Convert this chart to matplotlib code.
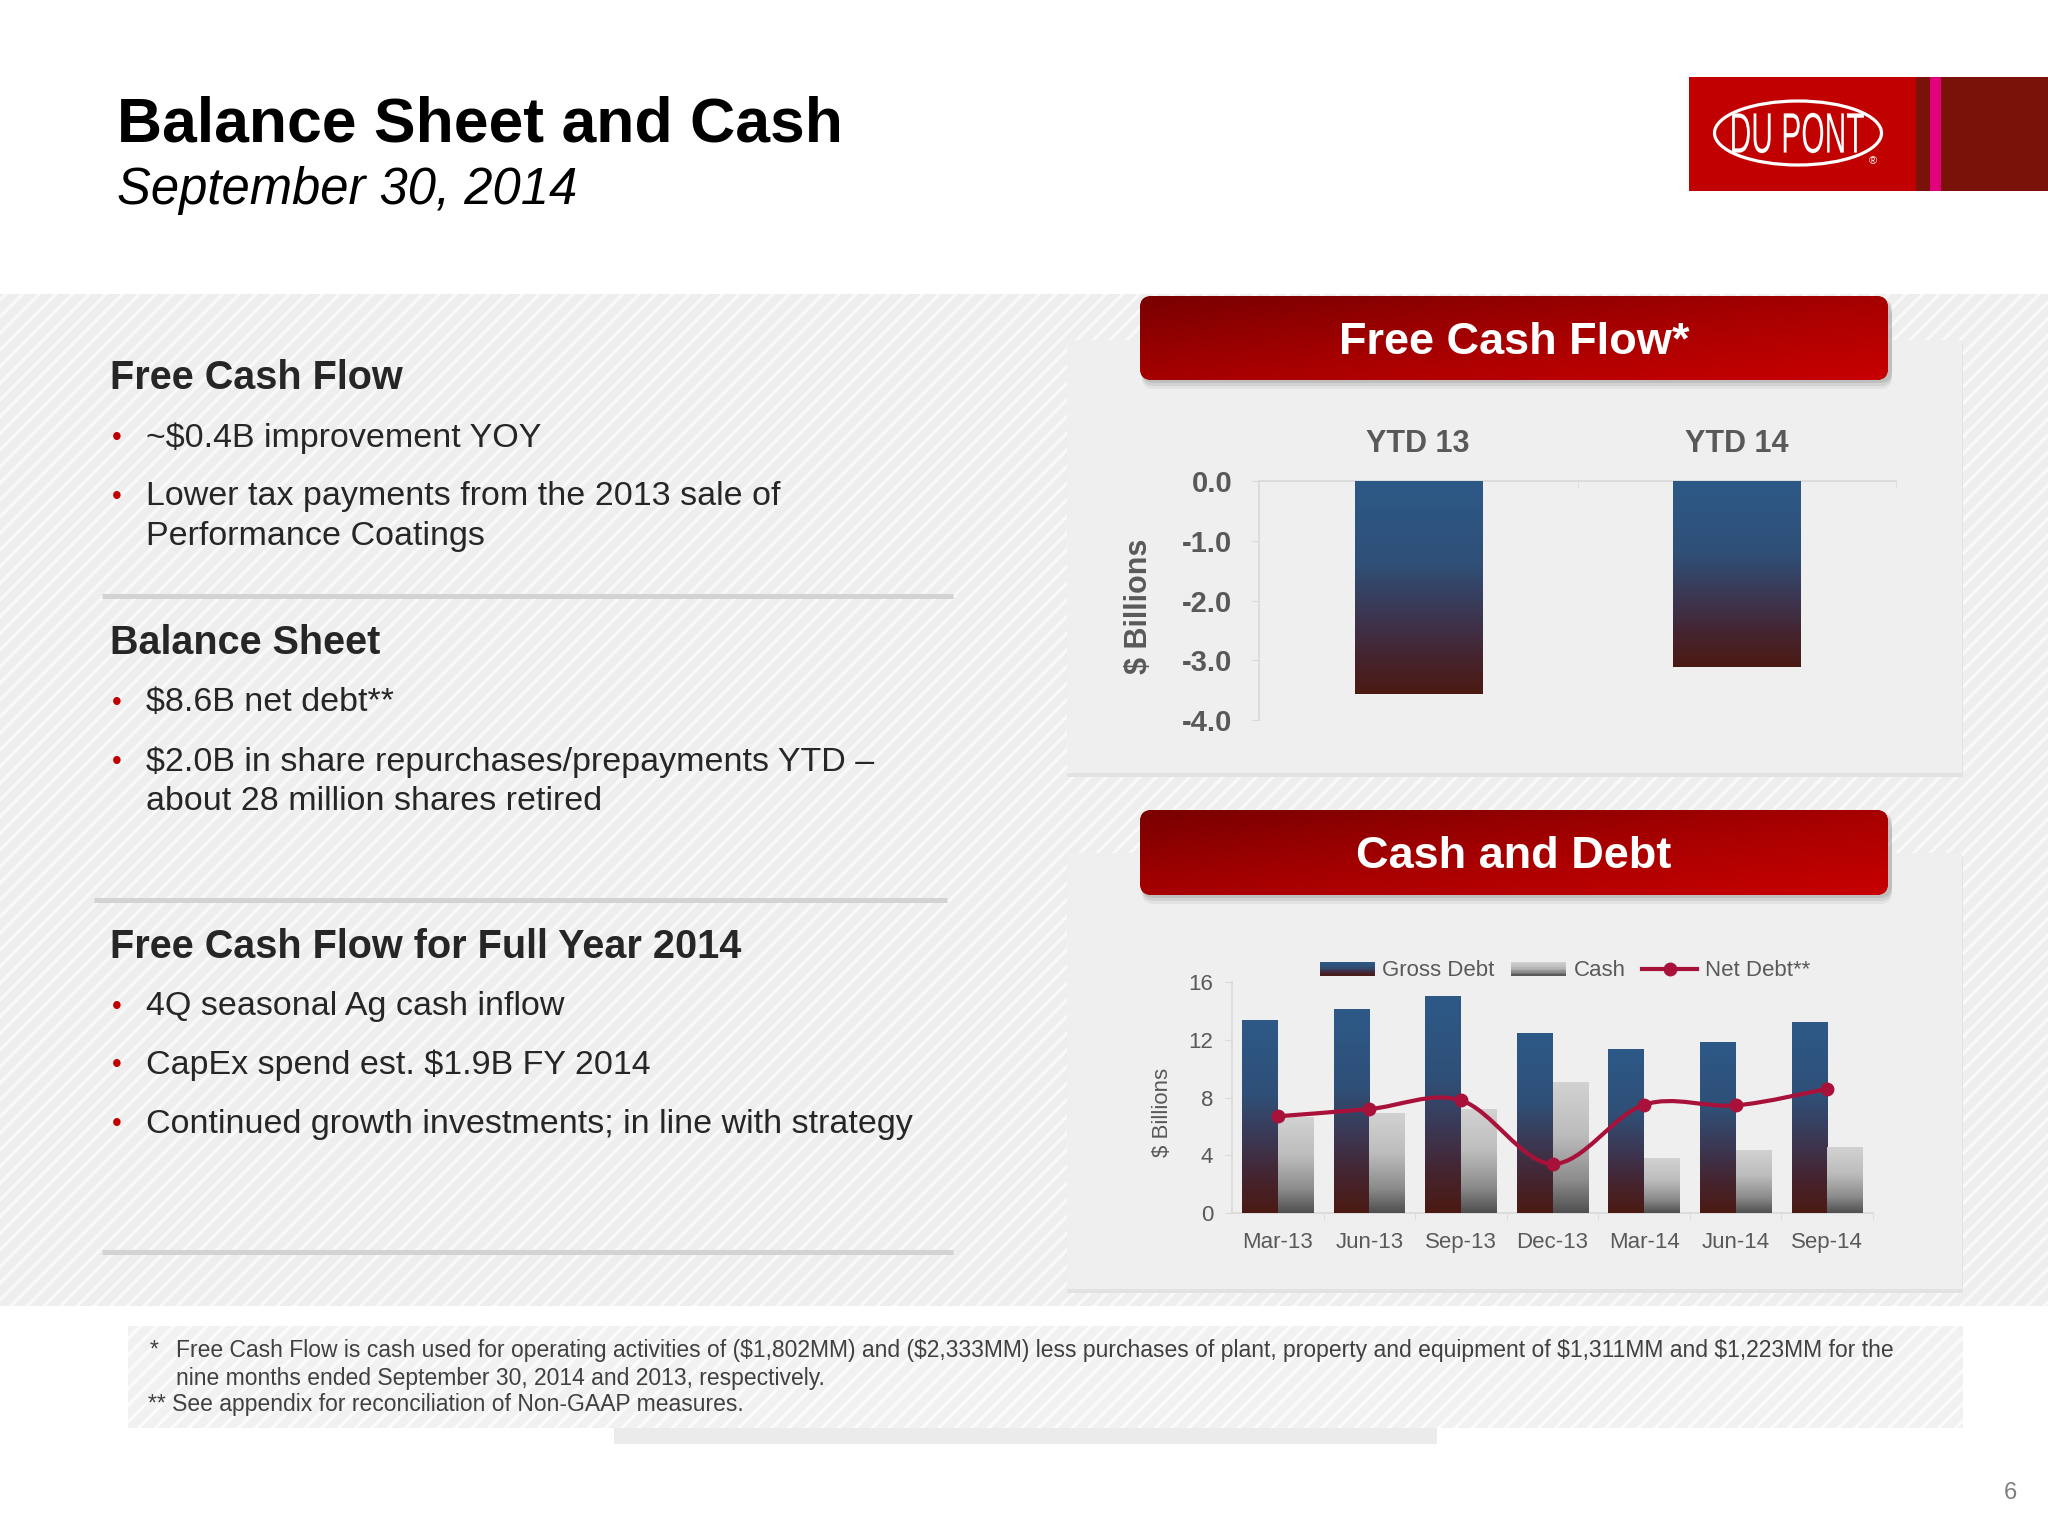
import numpy as np
import matplotlib
matplotlib.use("Agg")
import matplotlib.pyplot as plt
from matplotlib.patches import Rectangle, FancyBboxPatch, Ellipse, PathPatch
from matplotlib.path import Path
from matplotlib.textpath import TextPath
from matplotlib.font_manager import FontProperties
from matplotlib.transforms import Affine2D
from matplotlib.colors import LinearSegmentedColormap
from matplotlib.legend_handler import HandlerBase
from matplotlib.lines import Line2D

plt.rcParams["font.family"] = ["Liberation Sans", "DejaVu Sans"]
plt.rcParams["hatch.linewidth"] = 2.4
plt.rcParams["text.parse_math"] = False

# ---- data ----
fcf_labels = ["YTD 13", "YTD 14"]
fcf_values = [-3.56, -3.11]
fcf_ticks = [0.0, -1.0, -2.0, -3.0, -4.0]

periods = ["Mar-13", "Jun-13", "Sep-13", "Dec-13", "Mar-14", "Jun-14", "Sep-14"]
gross_debt = [13.3, 14.1, 15.0, 12.45, 11.35, 11.8, 13.2]
cash = [6.6, 6.9, 7.2, 9.05, 3.8, 4.35, 4.55]
net_debt = [6.7, 7.2, 7.8, 3.4, 7.5, 7.45, 8.6]
debt_ticks = [0, 4, 8, 12, 16]
legend_labels = ["Gross Debt", "Cash", "Net Debt**"]

title = "Balance Sheet and Cash"
subtitle = "September 30, 2014"
fcf_head = "Free Cash Flow"
fcf_bullets = [["~$0.4B improvement YOY"],
               ["Lower tax payments from the 2013 sale of", "Performance Coatings"]]
bs_head = "Balance Sheet"
bs_bullets = [["$8.6B net debt**"],
              ["$2.0B in share repurchases/prepayments YTD \u2013", "about 28 million shares retired"]]
fy_head = "Free Cash Flow for Full Year 2014"
fy_bullets = [["4Q seasonal Ag cash inflow"],
              ["CapEx spend est. $1.9B FY 2014"],
              ["Continued growth investments; in line with strategy"]]
footnotes = ["Free Cash Flow is cash used for operating activities of ($1,802MM) and ($2,333MM) less purchases of plant, property and equipment of $1,311MM and $1,223MM for the",
             "nine months ended September 30, 2014 and 2013, respectively.",
             "** See appendix for reconciliation of Non-GAAP measures."]

W, H = 2048, 1536
DARK = "#262626"
GREY = "#595959"
AXIS = "#d9d9d9"
RED = "#c00000"
LINE_RED = "#a8123a"


def fig_rect(x0, y0, x1, y1):
    # pixel box (top-left origin) -> figure fraction
    return [x0 / W, 1 - y1 / H, (x1 - x0) / W, (y1 - y0) / H]


debt_cmap = LinearSegmentedColormap.from_list(
    "debt", [(0, "#2d5987"), (0.38, "#2f5078"), (0.62, "#3c3753"),
             (0.82, "#45242f"), (1, "#4b1a12")])
cash_cmap = LinearSegmentedColormap.from_list(
    "cash", [(0, "#d2d2d2"), (0.4, "#bdbdbd"), (0.75, "#8c8c8c"), (1, "#4f4f4f")])
banner_cmap = LinearSegmentedColormap.from_list("banner", ["#7a0000", "#a60000", "#c80000"])
ramp = np.linspace(0, 1, 256).reshape(-1, 1)


def gradient_bars(ax, bars, cmap):
    for b in bars:
        x0, y0 = b.get_x(), b.get_y()
        x1, y1 = x0 + b.get_width(), y0 + b.get_height()
        ax.imshow(ramp, cmap=cmap, aspect="auto", origin="upper",
                  extent=(x0, x1, min(y0, y1), max(y0, y1)), zorder=3)


class GradientHandler(HandlerBase):
    def __init__(self, cmap):
        super().__init__()
        self.cmap = cmap

    def create_artists(self, legend, orig_handle, xdescent, ydescent,
                       width, height, fontsize, trans):
        n = 10
        arts = []
        for i in range(n):
            arts.append(Rectangle((-xdescent, -ydescent + height * (n - 1 - i) / n),
                                  width, height / n, facecolor=self.cmap((i + 0.5) / n),
                                  edgecolor="none", transform=trans))
        return arts


def smooth_path(xs, ys):
    # Catmull-Rom through the data points, as cubic Bezier segments
    pts = np.column_stack([xs, ys]).astype(float)
    verts, codes = [pts[0]], [Path.MOVETO]
    for i in range(len(pts) - 1):
        p0 = pts[max(i - 1, 0)]
        p1, p2 = pts[i], pts[i + 1]
        p3 = pts[min(i + 2, len(pts) - 1)]
        verts += [p1 + (p2 - p0) / 6, p2 - (p3 - p1) / 6, p2]
        codes += [Path.CURVE4] * 3
    return Path(verts, codes)


def banner(bg, x, y, w, h, text):
    for k, a in [(9, 0.12), (6, 0.18), (3, 0.25)]:
        bg.add_patch(FancyBboxPatch((x + 2, y + k), w + 2, h, boxstyle="round,pad=0,rounding_size=12",
                                    facecolor="#8a8a8a", edgecolor="none", alpha=a, zorder=3))
    box = FancyBboxPatch((x, y), w, h, boxstyle="round,pad=0,rounding_size=12",
                         facecolor="#a00000", edgecolor="none", zorder=4)
    bg.add_patch(box)
    gx, gy = np.meshgrid(np.linspace(0, 1, 300), np.linspace(0, 1, 60))
    im = bg.imshow(0.5 * gx + 0.5 * gy, cmap=banner_cmap, origin="upper", aspect="auto",
                   extent=(x, x + w, y + h, y), zorder=5)
    im.set_clip_path(box)
    bg.text(x + w / 2, y + h / 2 + 4, text, color="white", fontsize=32.5, fontweight="bold",
            ha="center", va="center", zorder=6)


fig = plt.figure(figsize=(20.48, 15.36), dpi=100, facecolor="white")
bg = fig.add_axes([0, 0, 1, 1], zorder=0)
bg.set_xlim(0, W)
bg.set_ylim(H, 0)
bg.axis("off")

# striped band behind the content
bg.add_patch(Rectangle((0, 294), W, 1012, facecolor="#eeeeee", edgecolor="#f9f9f9",
                       hatch="//", linewidth=0, zorder=1))
# footnote box and its shadow
bg.add_patch(Rectangle((128, 1326), 1835, 102, facecolor="#f1f1f1", edgecolor="#fbfbfb",
                       hatch="//", linewidth=0, zorder=1))
bg.add_patch(Rectangle((614, 1428), 823, 16, facecolor="#ebebeb", edgecolor="none", zorder=1))

# chart panels
for top, hgt in [(340, 433), (853, 436)]:
    bg.add_patch(Rectangle((1067, top + 4), 896, hgt, facecolor="#e2e2e2", edgecolor="none", zorder=2))
    bg.add_patch(Rectangle((1067, top), 895, hgt, facecolor="#efeff0", edgecolor="none", zorder=2))

banner(bg, 1140, 296, 748, 84, "Free Cash Flow*")
banner(bg, 1140, 810, 748, 85, "Cash and Debt")

# title block
bg.text(117, 142, title, fontsize=45, fontweight="bold", color="black", va="baseline")
bg.text(117, 204, subtitle, fontsize=36.5, style="italic", color="black", va="baseline")

# logo
bg.add_patch(Rectangle((1689, 77), 227, 114, facecolor="#c10000", edgecolor="none", zorder=2))
bg.add_patch(Rectangle((1916, 77), 132, 114, facecolor="#7a120a", edgecolor="none", zorder=2))
bg.add_patch(Rectangle((1930, 77), 11, 114, facecolor="#e3007d", edgecolor="none", zorder=3))
bg.add_patch(Ellipse((1798, 133), 167, 64, fill=False, edgecolor="white", linewidth=2.3, zorder=4))
tp = TextPath((0, 0), "DU PONT", size=60, prop=FontProperties(family="Liberation Sans"))
ext = tp.get_extents()
tr = (Affine2D().translate(-(ext.x0 + ext.x1) / 2, -(ext.y0 + ext.y1) / 2)
      .scale(0.5, -0.95).translate(1798, 133))
bg.add_patch(PathPatch(tr.transform_path(tp), facecolor="white", edgecolor="none", zorder=5))
bg.text(1873, 161, "\u00ae", color="white", fontsize=8, ha="center", va="center", zorder=5)


# left text column
def section(head, head_y, bullets, line_ys):
    bg.text(110, head_y, head, fontsize=28.5, fontweight="bold", color=DARK, va="center", zorder=5)
    k = 0
    for lines in bullets:
        bg.text(112, line_ys[k], "\u2022", fontsize=20, color=RED, va="center", zorder=5)
        for line in lines:
            bg.text(146, line_ys[k], line, fontsize=24.5, color=DARK, va="center", zorder=5)
            k += 1


section(fcf_head, 378, fcf_bullets, [438, 497, 537])
section(bs_head, 643, bs_bullets, [703, 762, 802])
section(fy_head, 947, fy_bullets, [1007, 1065, 1124])
for y, x0, x1 in [(596, 102, 953), (900, 94, 947), (1252, 102, 953)]:
    bg.plot([x0, x1], [y, y], color="#d3d3d3", linewidth=3.6, solid_capstyle="butt", zorder=5)

# footnotes and page number
bg.text(150, 1350, "*", fontsize=16.5, color="#404040", va="center", zorder=5)
bg.text(176, 1350, footnotes[0], fontsize=16.5, color="#404040", va="center", zorder=5)
bg.text(176, 1378, footnotes[1], fontsize=16.5, color="#404040", va="center", zorder=5)
bg.text(148, 1405, footnotes[2], fontsize=16.5, color="#404040", va="center", zorder=5)
bg.text(2010, 1493, "6", fontsize=17, color="#7f7f7f", ha="center", va="center")

# ---- Free Cash Flow chart ----
ax1 = fig.add_axes(fig_rect(1259, 481, 1896, 720), zorder=2)
ax1.patch.set_alpha(0)
x1 = np.arange(len(fcf_values))
b1 = ax1.bar(x1, fcf_values, width=0.4, color="#4b1a12", zorder=2)
gradient_bars(ax1, b1, debt_cmap)
ax1.set_xlim(-0.5, 1.5)
ax1.set_ylim(-4, 0)
ax1.set_yticks(fcf_ticks, [f"{t:.1f}" for t in fcf_ticks], fontweight="bold")
ax1.xaxis.tick_top()
ax1.set_xticks(x1, fcf_labels, fontweight="bold")
ax1.set_xticks([0.5, 1.5], minor=True)
ax1.tick_params(axis="x", which="major", length=0, pad=15.5, labelsize=22, labelcolor=GREY)
ax1.tick_params(axis="x", which="minor", length=5, direction="in", color=AXIS, top=True)
ax1.tick_params(axis="y", length=5, color=AXIS, pad=14, labelsize=21, labelcolor=GREY)
for s in ["right", "bottom"]:
    ax1.spines[s].set_visible(False)
for s in ["top", "left"]:
    ax1.spines[s].set_color(AXIS)
    ax1.spines[s].set_linewidth(1.2)
bg.text(1139, 606, "$ Billions", rotation=90, fontsize=22, fontweight="bold", color=GREY,
        ha="center", va="center", zorder=5)

# ---- Cash and Debt chart ----
ax2 = fig.add_axes(fig_rect(1232, 982, 1873, 1213), zorder=2)
ax2.patch.set_alpha(0)
x2 = np.arange(len(periods))
bw = 0.39
b_debt = ax2.bar(x2 - bw / 2, gross_debt, width=bw, color="#4b1a12", zorder=2)
b_cash = ax2.bar(x2 + bw / 2, cash, width=bw, color="#4f4f4f", zorder=2)
gradient_bars(ax2, b_debt, debt_cmap)
gradient_bars(ax2, b_cash, cash_cmap)
ax2.add_patch(PathPatch(smooth_path(x2, net_debt), facecolor="none", edgecolor=LINE_RED,
                        linewidth=3.0, zorder=5))
ax2.plot(x2, net_debt, linestyle="none", marker="o", markersize=9, color=LINE_RED, zorder=6)
ax2.set_xlim(-0.5, len(periods) - 0.5)
ax2.set_ylim(0, 16)
ax2.set_yticks(debt_ticks)
ax2.set_xticks(x2, periods)
ax2.set_xticks(np.arange(len(periods)) + 0.5, minor=True)
ax2.tick_params(axis="x", which="major", length=0, pad=14, labelsize=16, labelcolor=GREY)
ax2.tick_params(axis="x", which="minor", length=5, color=AXIS)
ax2.tick_params(axis="y", length=5, color=AXIS, pad=8.5, labelsize=16, labelcolor=GREY)
for s in ["right", "top"]:
    ax2.spines[s].set_visible(False)
for s in ["bottom", "left"]:
    ax2.spines[s].set_color(AXIS)
    ax2.spines[s].set_linewidth(1.2)
bg.text(1162, 1112, "$ Billions", rotation=90, fontsize=16, color=GREY,
        ha="center", va="center", zorder=5)

h_debt = Rectangle((0, 0), 1, 1)
h_cash = Rectangle((0, 0), 1, 1)
h_net = Line2D([], [], color=LINE_RED, linewidth=3.0, marker="o", markersize=9)
leg = fig.legend([h_debt, h_cash, h_net], legend_labels, loc="center",
                 bbox_to_anchor=(1565 / W, 1 - 971 / H), ncol=3, frameon=False,
                 fontsize=16, handlelength=2.45, handleheight=0.6, handletextpad=0.35,
                 columnspacing=0.75, borderpad=0, borderaxespad=0,
                 handler_map={h_debt: GradientHandler(debt_cmap),
                              h_cash: GradientHandler(cash_cmap)})
for t in leg.get_texts():
    t.set_color(GREY)

fig.savefig("out.png", dpi=100)
plt.close(fig)
